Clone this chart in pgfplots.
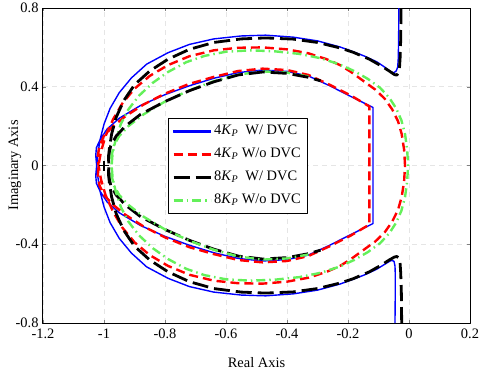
\documentclass[border=0pt]{standalone}
\usepackage{fontspec}
\setmainfont{Liberation Serif}
\usepackage{pgfplots}
\pgfplotsset{compat=1.18}
\definecolor{lgreen}{RGB}{100,240,90}
\definecolor{pblue}{RGB}{0,0,255}
\begin{document}
\begin{tikzpicture}[font=\fontsize{14.5}{17}\selectfont]
\begin{axis}[
  scale only axis, width=427bp, height=315bp,
  xmin=-1.2, xmax=0.2, ymin=-0.8, ymax=0.8,
  xtick={-1.2,-1,-0.8,-0.6,-0.4,-0.2,0,0.2},
  xticklabels={-1.2,-1,-0.8,-0.6,-0.4,-0.2,0,0.2},
  ytick={-0.8,-0.4,0,0.4,0.8},
  yticklabels={-0.8,-0.4,0,0.4,0.8},
  xticklabel style={yshift=-2bp},
  yticklabel style={xshift=-1bp},
  tick align=inside, major tick length=3bp,
  grid=major,
  major grid style={dash pattern=on 5bp off 4bp, black!10, line width=0.8bp},
  axis line style={line width=1bp},
  xlabel={Real Axis}, ylabel={Imaginary Axis},
  every axis x label/.style={at={(axis description cs:0.5,-0.124)}, anchor=center},
  every axis y label/.style={at={(axis description cs:-0.066,0.5)}, rotate=90, anchor=center},
  legend cell align=left,
  legend style={at={(axis cs:-0.79,0.241)}, anchor=north west, draw=black,
    row sep=3.5bp, inner xsep=4bp, inner ysep=3.5bp,
    nodes={text height=11bp, text depth=4.5bp},
    font=\fontsize{14.5}{17}\selectfont},
  line join=round,
]
\addlegendimage{legend image code/.code={\fill[pblue] (0bp,-1.1bp) rectangle (37bp,1.1bp);}}
\addlegendentry{4\textit{K}\textsubscript{\textit{P}}\ \ W/ DVC}
\addlegendimage{legend image code/.code={\draw[red, line width=2.4bp, dash pattern=on 9bp off 5bp] (0bp,0bp) -- (37bp,0bp);}}
\addlegendentry{4\textit{K}\textsubscript{\textit{P}} W/o DVC}
\addlegendimage{legend image code/.code={\draw[black, line width=2.8bp, dash pattern=on 16bp off 6bp] (0bp,0bp) -- (37bp,0bp);}}
\addlegendentry{8\textit{K}\textsubscript{\textit{P}}\ \ W/ DVC}
\addlegendimage{legend image code/.code={\draw[lgreen, line width=2.4bp, dash pattern=on 9bp off 4bp on 1.5bp off 4bp] (0bp,0bp) -- (37bp,0bp);}}
\addlegendentry{8\textit{K}\textsubscript{\textit{P}} W/o DVC}
% 4Kp W/ DVC
\addplot[pblue, line width=1.4bp, forget plot] coordinates {
(-0.033,0.80) (-0.034,0.65) (-0.035,0.55) (-0.037,0.50) (-0.042,0.480) (-0.050,0.471) (-0.060,0.476) (-0.080,0.500) (-0.106,0.527) (-0.145,0.555) (-0.183,0.578) (-0.226,0.602) (-0.30,0.633) (-0.38,0.652) (-0.47,0.662) (-0.55,0.658) (-0.64,0.643) (-0.72,0.615) (-0.79,0.573) (-0.86,0.515) (-0.91,0.445) (-0.95,0.37) (-0.98,0.29) (-1.00,0.21) (-1.013,0.13) (-1.02,0.06) (-1.024,0.0) (-1.027,-0.05) (-1.025,-0.09) (-1.013,-0.13) (-0.99,-0.185) (-0.95,-0.24) (-0.88,-0.305) (-0.80,-0.36) (-0.72,-0.405) (-0.64,-0.443) (-0.56,-0.472) (-0.48,-0.485) (-0.40,-0.478) (-0.33,-0.455) (-0.26,-0.405) (-0.19,-0.35) (-0.118,-0.295)
(-0.118,0.295) (-0.19,0.35) (-0.26,0.405) (-0.33,0.455) (-0.40,0.478) (-0.48,0.485) (-0.56,0.472) (-0.64,0.443) (-0.72,0.405) (-0.80,0.36) (-0.88,0.305) (-0.95,0.24) (-0.99,0.185) (-1.013,0.13) (-1.025,0.09) (-1.027,0.05) (-1.024,0.0) (-1.02,-0.06) (-1.013,-0.13) (-1.00,-0.21) (-0.98,-0.29) (-0.95,-0.37) (-0.91,-0.445) (-0.86,-0.515) (-0.79,-0.573) (-0.72,-0.615) (-0.64,-0.643) (-0.55,-0.658) (-0.47,-0.662) (-0.38,-0.652) (-0.30,-0.633) (-0.226,-0.602) (-0.183,-0.578) (-0.145,-0.555) (-0.106,-0.527) (-0.080,-0.502) (-0.062,-0.485) (-0.056,-0.482) (-0.049,-0.487) (-0.046,-0.51) (-0.045,-0.55) (-0.045,-0.65) (-0.046,-0.80)
};
% 4Kp W/o DVC
\addplot[red, line width=2.4bp, dash pattern=on 9bp off 5bp, forget plot] coordinates {
(-0.013,0.0) (-0.016,0.08) (-0.024,0.16) (-0.036,0.225) (-0.055,0.285) (-0.08,0.34) (-0.11,0.385) (-0.15,0.43) (-0.19,0.475) (-0.226,0.51) (-0.27,0.54) (-0.33,0.57) (-0.40,0.59) (-0.48,0.60) (-0.56,0.598) (-0.64,0.585) (-0.72,0.555) (-0.79,0.51) (-0.85,0.455) (-0.90,0.39) (-0.94,0.315) (-0.97,0.235) (-0.995,0.15) (-1.01,0.07) (-1.018,0.0) (-1.02,-0.05) (-1.015,-0.10) (-1.0,-0.15) (-0.97,-0.20) (-0.93,-0.25) (-0.87,-0.31) (-0.80,-0.365) (-0.72,-0.415) (-0.64,-0.45) (-0.56,-0.48) (-0.48,-0.492) (-0.40,-0.485) (-0.33,-0.46) (-0.26,-0.41) (-0.19,-0.355) (-0.13,-0.30)
(-0.13,0.30) (-0.19,0.355) (-0.26,0.41) (-0.33,0.46) (-0.40,0.485) (-0.48,0.492) (-0.56,0.48) (-0.64,0.45) (-0.72,0.415) (-0.80,0.365) (-0.87,0.31) (-0.93,0.25) (-0.97,0.20) (-1.0,0.15) (-1.015,0.10) (-1.02,0.05) (-1.018,0.0) (-1.01,-0.07) (-0.995,-0.15) (-0.97,-0.235) (-0.94,-0.315) (-0.90,-0.39) (-0.85,-0.455) (-0.79,-0.51) (-0.72,-0.555) (-0.64,-0.585) (-0.56,-0.598) (-0.48,-0.60) (-0.40,-0.59) (-0.33,-0.57) (-0.27,-0.54) (-0.226,-0.51) (-0.19,-0.475) (-0.15,-0.43) (-0.11,-0.385) (-0.08,-0.34) (-0.055,-0.285) (-0.036,-0.225) (-0.024,-0.16) (-0.016,-0.08) (-0.013,0.0)
};
% 8Kp W/ DVC
\addplot[black, line width=2.8bp, dash pattern=on 16bp off 6bp, forget plot] coordinates {
(-0.026,0.80) (-0.027,0.65) (-0.029,0.55) (-0.031,0.50) (-0.035,0.47) (-0.040,0.459) (-0.048,0.462) (-0.065,0.48) (-0.09,0.505) (-0.13,0.54) (-0.183,0.575) (-0.226,0.597) (-0.30,0.625) (-0.38,0.642) (-0.47,0.648) (-0.55,0.643) (-0.64,0.625) (-0.72,0.59) (-0.79,0.54) (-0.85,0.48) (-0.90,0.41) (-0.935,0.33) (-0.96,0.245) (-0.975,0.16) (-0.983,0.08) (-0.985,0.0) (-0.985,-0.05) (-0.978,-0.10) (-0.96,-0.15) (-0.93,-0.20) (-0.88,-0.26) (-0.80,-0.325) (-0.72,-0.38) (-0.64,-0.425) (-0.56,-0.46) (-0.48,-0.475) (-0.40,-0.468) (-0.33,-0.448) (-0.29,-0.43)
};
% 8Kp W/o DVC
\addplot[lgreen, line width=2.4bp, dash pattern=on 9bp off 4bp on 1.5bp off 4bp, forget plot] coordinates {
(-0.33,0.452) (-0.40,0.472) (-0.48,0.478) (-0.56,0.462) (-0.64,0.428) (-0.72,0.382) (-0.80,0.325) (-0.87,0.26) (-0.92,0.20) (-0.95,0.15) (-0.968,0.10) (-0.975,0.05) (-0.975,0.0) (-0.972,-0.06) (-0.962,-0.13) (-0.945,-0.21) (-0.92,-0.285) (-0.885,-0.355) (-0.84,-0.42) (-0.79,-0.475) (-0.73,-0.525) (-0.67,-0.557) (-0.60,-0.578) (-0.52,-0.585) (-0.44,-0.58) (-0.36,-0.567) (-0.29,-0.545) (-0.23,-0.515) (-0.18,-0.48) (-0.135,-0.44) (-0.095,-0.395) (-0.065,-0.345) (-0.042,-0.29) (-0.025,-0.23) (-0.013,-0.16) (-0.006,-0.08) (-0.003,0)
(-0.006,0.08) (-0.013,0.16) (-0.025,0.23) (-0.042,0.29) (-0.065,0.345) (-0.095,0.395) (-0.135,0.44) (-0.18,0.48) (-0.23,0.515) (-0.29,0.545) (-0.36,0.567) (-0.44,0.58) (-0.52,0.585) (-0.60,0.578) (-0.67,0.557) (-0.73,0.525) (-0.79,0.475) (-0.84,0.42) (-0.885,0.355) (-0.92,0.285) (-0.945,0.21) (-0.962,0.13) (-0.972,0.06) (-0.975,0.0) (-0.975,-0.05) (-0.968,-0.10) (-0.95,-0.15) (-0.92,-0.20) (-0.87,-0.26) (-0.80,-0.325) (-0.72,-0.382) (-0.64,-0.428) (-0.56,-0.462) (-0.48,-0.478) (-0.40,-0.472) (-0.33,-0.452)
};
% 8Kp W/ DVC, mirrored branch
\addplot[black, line width=2.8bp, dash pattern=on 16bp off 6bp, forget plot] coordinates {
(-0.024,-0.80) (-0.025,-0.65) (-0.027,-0.55) (-0.029,-0.50) (-0.033,-0.47) (-0.040,-0.462) (-0.048,-0.465) (-0.065,-0.48) (-0.09,-0.505) (-0.13,-0.54) (-0.183,-0.575) (-0.226,-0.597) (-0.30,-0.625) (-0.38,-0.642) (-0.47,-0.648) (-0.55,-0.643) (-0.64,-0.625) (-0.72,-0.59) (-0.79,-0.54) (-0.85,-0.48) (-0.90,-0.41) (-0.935,-0.33) (-0.96,-0.245) (-0.975,-0.16) (-0.983,-0.08) (-0.985,0.0) (-0.985,0.05) (-0.978,0.10) (-0.96,0.15) (-0.93,0.20) (-0.88,0.26) (-0.80,0.325) (-0.72,0.38) (-0.64,0.425) (-0.56,0.46) (-0.48,0.475) (-0.40,0.468) (-0.33,0.448) (-0.29,0.43)
};
% critical point
\addplot[black, only marks, mark=+, mark size=5bp, line width=1.2bp, forget plot] coordinates {(-1,0)};
\end{axis}
\pgfresetboundingbox
\path[use as bounding box] ([xshift=-43bp,yshift=-50bp]current axis.south west) rectangle ([xshift=10bp,yshift=8bp]current axis.north east);
\end{tikzpicture}
\end{document}
